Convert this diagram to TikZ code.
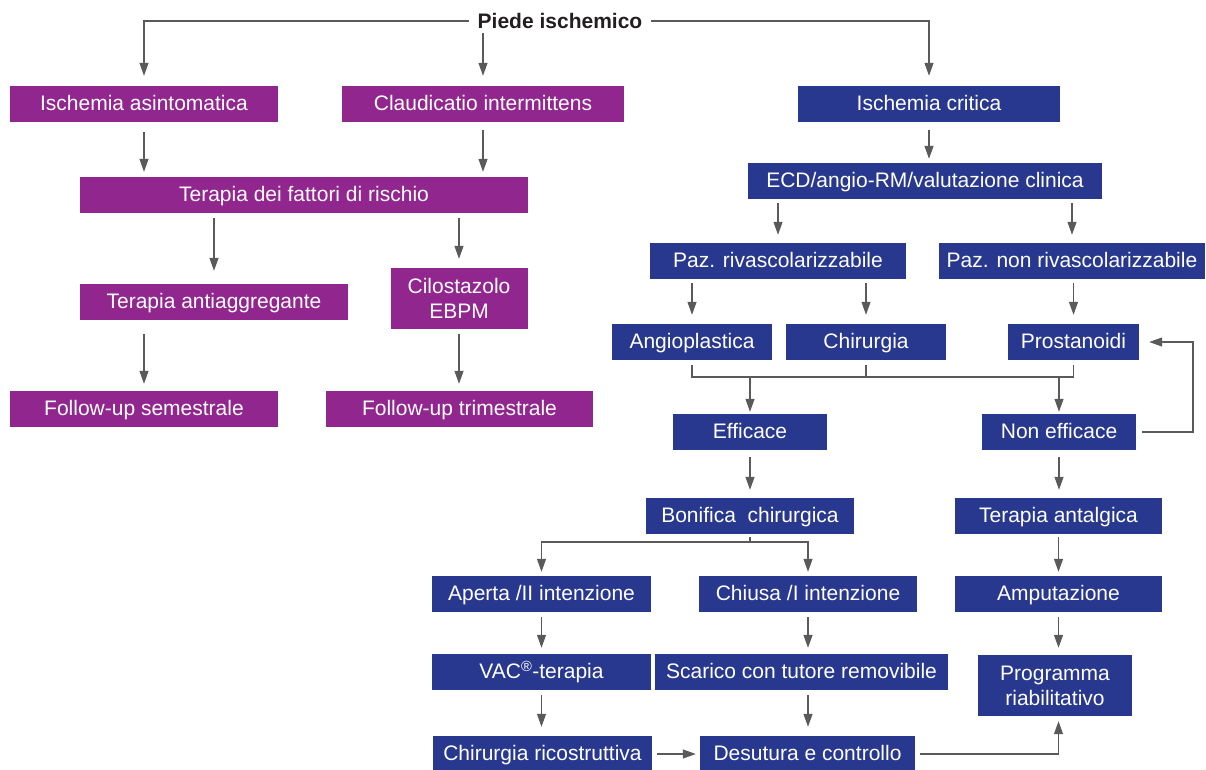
\documentclass[tikz,border=0pt]{standalone}
\usepackage{fontspec}
\setmainfont{Liberation Sans}
\usetikzlibrary{arrows.meta}
\definecolor{viola}{HTML}{92268F}
\definecolor{blu}{HTML}{28388F}
\definecolor{freccia}{HTML}{5A5A5A}
\definecolor{titolo}{HTML}{231F20}
\begin{document}
\begin{tikzpicture}[x=1pt,y=-1pt,
  box/.style={minimum height=36pt, inner sep=0pt, text=white, align=center,
              font=\fontsize{21}{25}\selectfont},
  oneline/.style={text height=16.5pt, text depth=3pt},
  pbox/.style={box, oneline, fill=viola},
  bbox/.style={box, oneline, fill=blu},
  pboxtwo/.style={box, fill=viola, minimum height=61pt},
  bboxtwo/.style={box, fill=blu, minimum height=61pt},
  link/.style={draw=freccia, line width=1.2pt},
  arr/.style={link, -{Triangle[length=13pt,width=9pt]}, shorten >=6pt, shorten <=6pt}]
\useasboundingbox (0,0) rectangle (1206,770);

% title
\node[font=\fontsize{21}{25}\selectfont\bfseries, text=titolo, inner xsep=9pt, inner ysep=3pt]
  (root) at (560,21) {Piede ischemico};

% left branch (purple)
\node[pbox, minimum width=268pt] (asint) at (144,104) {Ischemia asintomatica};
\node[pbox, minimum width=282pt] (claud) at (483,104) {Claudicatio intermittens};
\node[pbox, minimum width=448pt] (rischio) at (304,195) {Terapia dei fattori di rischio};
\node[pbox, minimum width=268pt] (antiagg) at (214,302) {Terapia antiaggregante};
\node[pboxtwo, minimum width=137pt] (cilo) at (459,298.5) {Cilostazolo\\EBPM};
\node[pbox, minimum width=268pt] (fus) at (144,409) {Follow-up semestrale};
\node[pbox, minimum width=267pt] (fut) at (459.5,409) {Follow-up trimestrale};

% right branch (blue)
\node[bbox, minimum width=262pt] (critica) at (929,104) {Ischemia critica};
\node[bbox, minimum width=354pt] (ecd) at (925,181) {ECD/angio-RM/valutazione clinica};
\node[bbox, minimum width=256pt] (pazr) at (778,261) {Paz. rivascolarizzabile};
\node[bbox, minimum width=266pt] (pazn) at (1072,261) {Paz. non rivascolarizzabile};
\node[bbox, minimum width=160pt] (angio) at (692,342) {Angioplastica};
\node[bbox, minimum width=160pt] (chir) at (866,342) {Chirurgia};
\node[bbox, minimum width=131pt] (prost) at (1073.5,342) {Prostanoidi};
\node[bbox, minimum width=154pt] (eff) at (750,432) {Efficace};
\node[bbox, minimum width=154pt] (neff) at (1059,432) {Non efficace};
\node[bbox, minimum width=208pt] (bonif) at (750,516) {Bonifica\ \ chirurgica};
\node[bbox, minimum width=207pt] (antal) at (1058.5,516) {Terapia antalgica};
\node[bbox, minimum width=219pt] (aperta) at (541.5,594) {Aperta /II intenzione};
\node[bbox, minimum width=218pt] (chiusa) at (808,594) {Chiusa /I intenzione};
\node[bbox, minimum width=207pt] (amput) at (1058.5,594) {Amputazione};
\node[bbox, minimum width=219pt] (vac) at (541.5,672) {VAC\textsuperscript{®}-terapia};
\node[bbox, minimum width=293pt] (scarico) at (801.5,672) {Scarico con tutore removibile};
\node[bboxtwo, minimum width=154pt] (prog) at (1055,685.5) {Programma\\riabilitativo};
\node[bbox, minimum width=219pt] (chric) at (542.5,754) {Chirurgia ricostruttiva};
\node[bbox, minimum width=215pt] (desut) at (807.5,754) {Desutura e controllo};

% connectors from the title
\draw[arr, shorten <=0pt, shorten >=10pt] (root.west) -| (asint.north);
\draw[arr, shorten <=1pt, shorten >=10pt] (root.south -| claud.north) -- (claud.north);
\draw[arr, shorten <=0pt, shorten >=10pt] (root.east) -| (critica.north);

% purple flow
\draw[arr, shorten <=10pt, shorten >=5pt] (asint.south) -- (asint.south |- rischio.north);
\draw[arr, shorten <=8pt, shorten >=5pt] (claud.south) -- (claud.south |- rischio.north);
\draw[arr, shorten <=5pt, shorten >=13pt] (rischio.south -| antiagg.north) -- (antiagg.north);
\draw[arr, shorten <=5pt, shorten >=9pt] (rischio.south -| cilo.north) -- (cilo.north);
\draw[arr, shorten <=14pt, shorten >=7pt] (antiagg.south -| fus.north) -- (fus.north);
\draw[arr, shorten <=5pt, shorten >=7pt] (cilo.south) -- (cilo.south |- fut.north);

% blue flow
\draw[arr, shorten <=8pt, shorten >=4pt] (critica.south) -- (critica.south |- ecd.north);
\draw[arr, shorten <=4pt, shorten >=8pt] (ecd.south -| pazr.north) -- (pazr.north);
\draw[arr, shorten <=4pt, shorten >=8pt] (ecd.south -| pazn.north) -- (pazn.north);
\draw[arr, shorten <=4pt, shorten >=9pt] (pazr.south -| angio.north) -- (angio.north);
\draw[arr, shorten <=4pt, shorten >=9pt] (pazr.south -| chir.north) -- (chir.north);
\draw[arr, shorten <=4pt, shorten >=9pt] (pazn.south -| prost.north) -- (prost.north);

% results of the three treatments collected on one line
\coordinate (jn) at (0,377);
\draw[link] ([yshift=-5pt]angio.south) -- (angio.south |- jn) -- (prost.south |- jn) -- ([yshift=-5pt]prost.south);
\draw[link] ([yshift=-5pt]chir.south) -- (chir.south |- jn);
\draw[arr, shorten <=0pt, shorten >=2pt] (eff.north |- jn) -- (eff.north);
\draw[arr, shorten <=0pt, shorten >=2pt] (neff.north |- jn) -- (neff.north);

% feedback loop back to prostanoids
\coordinate (lp) at (1193,0);
\draw[arr, shorten <=6pt, shorten >=10pt] (neff.east) -| (lp |- prost.east) -- (prost.east);

\draw[arr, shorten <=7pt, shorten >=8pt] (eff.south) -- (eff.south |- bonif.north);
\draw[arr, shorten <=7pt, shorten >=8pt] (neff.south) -- (neff.south |- antal.north);

% surgical debridement split
\coordinate (bs) at (0,542);
\draw[link] ([yshift=-3pt]bonif.south) -- (bonif.south |- bs);
\draw[arr, shorten <=0pt, shorten >=4pt] (bonif.south |- bs) -| (aperta.north);
\draw[arr, shorten <=0pt, shorten >=4pt] (bonif.south |- bs) -| (chiusa.north);
\draw[arr, shorten <=3pt, shorten >=4pt] (antal.south) -- (amput.north);

\draw[arr, shorten <=5pt, shorten >=6pt] (aperta.south) -- (vac.north);
\draw[arr, shorten <=5pt, shorten >=6pt] (chiusa.south) -- (chiusa.south |- scarico.north);
\draw[arr, shorten <=5pt, shorten >=7pt] (amput.south) -- (amput.south |- prog.north);
\draw[arr, shorten <=5pt, shorten >=9pt] (vac.south) -- (vac.south |- chric.north);
\draw[arr, shorten <=5pt, shorten >=9pt] (scarico.south -| chiusa.south) -- (chiusa.south |- desut.north);

\draw[arr, shorten <=5pt, shorten >=4pt] (chric.east) -- (desut.west);
\draw[arr, shorten <=5pt, shorten >=5pt] (desut.east) -| (amput.south |- prog.south);
\end{tikzpicture}
\end{document}
